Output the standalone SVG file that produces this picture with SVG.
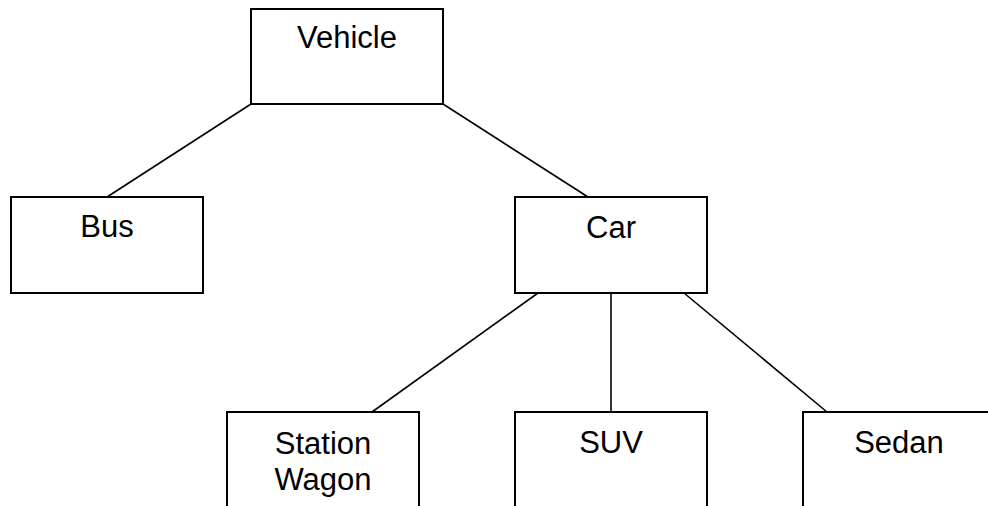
<svg xmlns="http://www.w3.org/2000/svg" width="988" height="506" viewBox="0 0 988 506">
  <style>
    .box { fill: #ffffff; stroke: #000000; stroke-width: 2; }
    .lbl { font-family: "Liberation Sans", Arial, sans-serif; font-size: 31px; fill: #000000; text-anchor: middle; }
    .edge { stroke: #000000; stroke-width: 1.6; fill: none; }
  </style>
  <rect width="988" height="506" fill="#ffffff"/>

  <!-- connectors -->
  <g id="connectors">
    <line class="edge" x1="251" y1="104" x2="107" y2="197"/>
    <line class="edge" x1="443" y1="104" x2="588" y2="197"/>
    <line class="edge" x1="538" y1="293" x2="372" y2="412"/>
    <line class="edge" x1="611" y1="293" x2="611" y2="412"/>
    <line class="edge" x1="684" y1="293" x2="827" y2="412"/>
  </g>

  <g id="vehicle">
    <rect class="box" x="251" y="9" width="192" height="95"/>
    <text class="lbl" x="347" y="48">Vehicle</text>
  </g>

  <g id="bus">
    <rect class="box" x="11" y="197" width="192" height="96"/>
    <text class="lbl" x="107" y="237">Bus</text>
  </g>

  <g id="car">
    <rect class="box" x="515" y="197" width="192" height="96"/>
    <text class="lbl" x="611" y="238">Car</text>
  </g>

  <g id="station-wagon">
    <rect class="box" x="227" y="412" width="192" height="100"/>
    <text class="lbl" x="323" y="454">Station</text>
    <text class="lbl" x="323" y="490">Wagon</text>
  </g>

  <g id="suv">
    <rect class="box" x="515" y="412" width="192" height="100"/>
    <text class="lbl" x="611" y="453">SUV</text>
  </g>

  <g id="sedan">
    <rect class="box" x="803" y="412" width="192" height="100"/>
    <text class="lbl" x="899" y="453">Sedan</text>
  </g>
</svg>
